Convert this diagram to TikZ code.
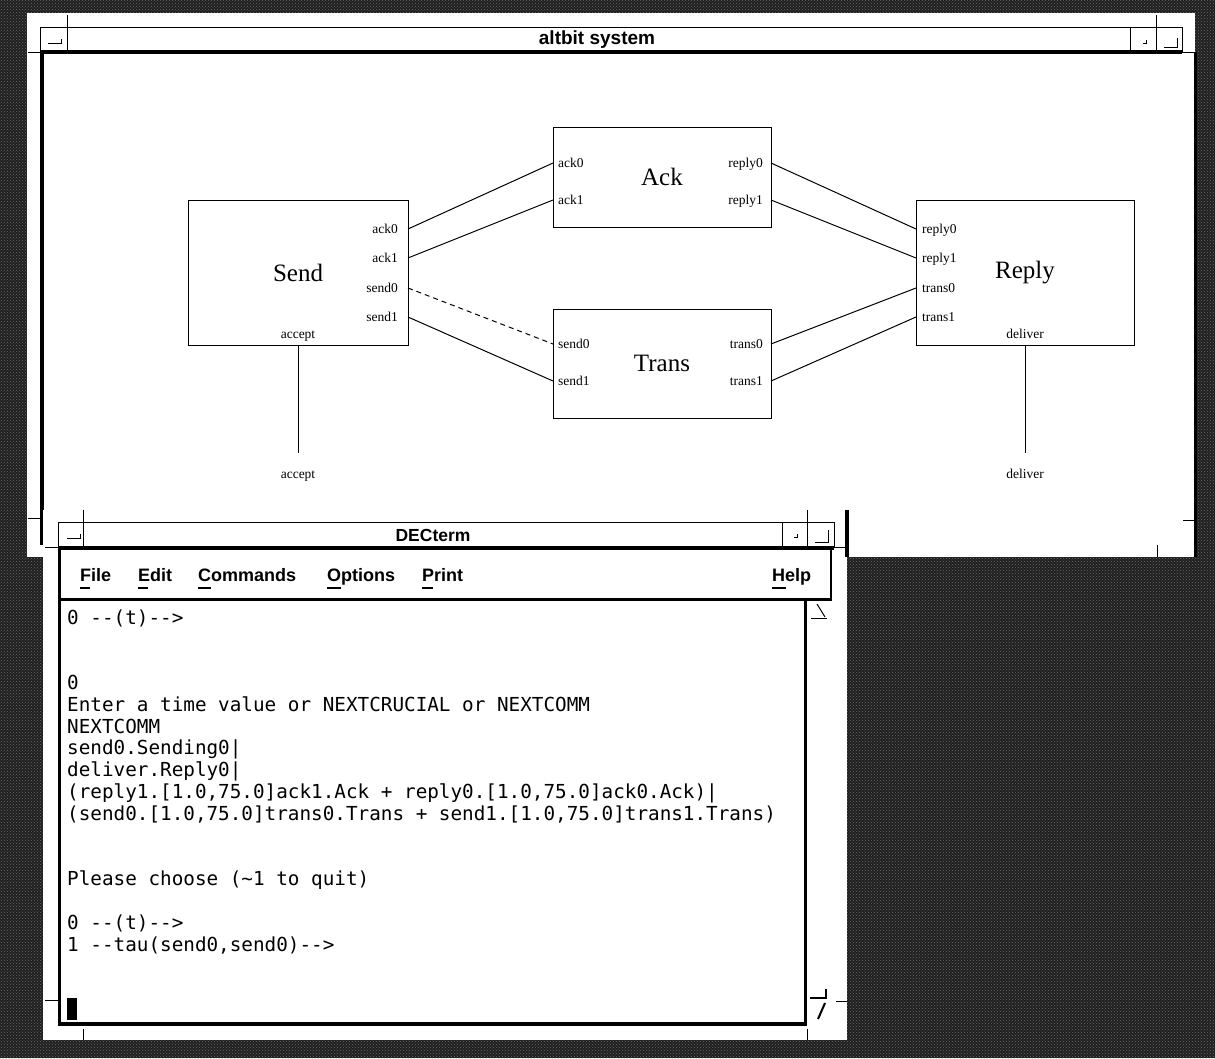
\documentclass[tikz,border=0pt]{standalone}
\usepackage{fontspec}
\setmainfont{Liberation Serif}
\newfontfamily\uisans{Liberation Sans}
\setmonofont{DejaVu Sans Mono}
\usetikzlibrary{patterns}

\newcommand\dgPort{\fontsize{13.5}{15}\selectfont}
\newcommand\dgTitle{\fontsize{25}{28}\selectfont}
\newcommand\ttyText{\ttfamily\fontsize{19.3}{22}\selectfont}
\newcommand\wmMenu{\uisans\bfseries\fontsize{18}{20}\selectfont}

\tikzset{
  thinln/.style={line width=1pt},
  medln/.style={line width=2pt},
  thickln/.style={line width=3.5pt},
  frame/.style={fill=white},
  procbox/.style={draw, line width=1pt, fill=white, inner sep=0pt, font=\dgTitle},
  portR/.style={font=\dgPort, inner sep=0pt, anchor=base east},
  portL/.style={font=\dgPort, inner sep=0pt, anchor=base west},
  portC/.style={font=\dgPort, inner sep=0pt, anchor=base},
  wire/.style={line width=1pt},
  ttyline/.style={font=\ttyText, inner sep=0pt, anchor=base west},
  menuitem/.style={font=\wmMenu, inner sep=0pt, anchor=base west},
  mnemonic/.style={line width=2pt},
  wmtitle/.style={inner sep=0pt, font=\uisans\bfseries\fontsize{#1}{#1}\selectfont},
}

\begin{document}
\begin{tikzpicture}[x=1pt,y=-1pt]
\useasboundingbox (0,0) rectangle (1215,1058);

% desktop background
\fill[black!88] (0,0) rectangle (1215,1058);
\fill[pattern=crosshatch dots, pattern color=black!58] (0,0) rectangle (1215,1058);

% ---------------- altbit system window ----------------
\fill[frame] (27,13) rectangle (1195,557);
\draw[thickln] (1195.5,52) -- (1195.5,557);
% title bar
\draw[thinln] (40,27) -- (1182,27);
\draw[thinln] (40,27) -- (40,52);
\draw[thinln] (67,15) -- (67,52);
\draw[thinln] (1130,27) -- (1130,52);
\draw[thinln] (1156,15) -- (1156,52);
\draw[thinln] (1182,27) -- (1182,52);
\draw[thickln] (40,52) -- (1182,52);
\draw[thinln] (28,52) -- (40,52);
\draw[thinln] (1182,52) -- (1195,52);
% title bar buttons
\draw[thinln] (48,43) -- (61,43) -- (61,39);
\draw[thinln] (1143,43) -- (1146,43) -- (1146,40);
\draw[thinln] (1164,47) -- (1177,47) -- (1177,38);
\node[wmtitle=19] (maintitle) at (597,40) {altbit system};
% window border
\draw[thickln] (42,52) -- (42,545);
\draw[thinln] (28,518) -- (42,518);
\draw[thinln] (1183,520) -- (1195,520);
\draw[thinln] (1157,545) -- (1157,557);

% process boxes
\node[procbox, minimum width=220pt, minimum height=145pt] (send)  at (298,272.5) {Send};
\node[procbox, minimum width=218pt, minimum height=100pt] (ack)   at (662,177)   {Ack};
\node[procbox, minimum width=218pt, minimum height=109pt] (trans) at (662,363.5) {Trans};
\node[procbox, minimum width=218pt, minimum height=145pt] (reply) at (1025,272.5) {Reply};

% port points on the box edges
\coordinate (s-ack0)  at (408,229);
\coordinate (s-ack1)  at (408,258);
\coordinate (s-send0) at (408,288);
\coordinate (s-send1) at (408,317);
\coordinate (a-ack0)  at (553,163);
\coordinate (a-ack1)  at (553,200);
\coordinate (a-rep0)  at (771,163);
\coordinate (a-rep1)  at (771,200);
\coordinate (t-send0) at (553,344);
\coordinate (t-send1) at (553,381);
\coordinate (t-tr0)   at (771,344);
\coordinate (t-tr1)   at (771,381);
\coordinate (r-rep0)  at (916,229);
\coordinate (r-rep1)  at (916,258);
\coordinate (r-tr0)   at (916,288);
\coordinate (r-tr1)   at (916,317);
\coordinate (acc-end) at (298,453);
\coordinate (del-end) at (1025,453);

% port labels
\node[portR] (ls-ack0)  at (398,233) {ack0};
\node[portR] (ls-ack1)  at (398,262) {ack1};
\node[portR] (ls-send0) at (398,292) {send0};
\node[portR] (ls-send1) at (398,321) {send1};
\node[portC] (ls-acc)   at (298,338) {accept};
\node[portL] (la-ack0)  at (558,167) {ack0};
\node[portL] (la-ack1)  at (558,204) {ack1};
\node[portR] (la-rep0)  at (763,167) {reply0};
\node[portR] (la-rep1)  at (763,204) {reply1};
\node[portL] (lt-send0) at (558,348) {send0};
\node[portL] (lt-send1) at (558,385) {send1};
\node[portR] (lt-tr0)   at (763,348) {trans0};
\node[portR] (lt-tr1)   at (763,385) {trans1};
\node[portL] (lr-rep0)  at (922,233) {reply0};
\node[portL] (lr-rep1)  at (922,262) {reply1};
\node[portL] (lr-tr0)   at (922,292) {trans0};
\node[portL] (lr-tr1)   at (922,321) {trans1};
\node[portC] (lr-del)   at (1025,338) {deliver};
\node[portC] (ext-acc)  at (298,478) {accept};
\node[portC] (ext-del)  at (1025,478) {deliver};

% channels
\draw[wire] (s-ack0) -- (a-ack0);
\draw[wire] (s-ack1) -- (a-ack1);
\draw[wire, dash pattern=on 5pt off 4pt] (s-send0) -- (t-send0);
\draw[wire] (s-send1) -- (t-send1);
\draw[wire] (a-rep0) -- (r-rep0);
\draw[wire] (a-rep1) -- (r-rep1);
\draw[wire] (t-tr0) -- (r-tr0);
\draw[wire] (t-tr1) -- (r-tr1);
\draw[wire] (send.south) -- (acc-end);
\draw[wire] (reply.south) -- (del-end);

% ---------------- DECterm window ----------------
\fill[frame] (43,510) rectangle (847,1040);
\draw[thickln] (847,510) -- (847,557);
% title bar
\draw[thinln] (58,522) -- (834,522);
\draw[thinln] (58,522) -- (58,548);
\draw[thinln] (83,510) -- (83,548);
\draw[thinln] (782,522) -- (782,548);
\draw[thinln] (807,510) -- (807,548);
\draw[thinln] (834,522) -- (834,548);
\draw[thickln] (58,548) -- (834,548);
\draw[thinln] (45,547) -- (58,547);
\draw[thinln] (834,547) -- (847,547);
\draw[thinln] (67,538) -- (80,538) -- (80,534);
\draw[thinln] (794,537) -- (797,537) -- (797,534);
\draw[thinln] (815,542) -- (828,542) -- (828,530);
\node[wmtitle=17.5] (termtitle) at (433,535) {DECterm};

% menu bar
\node[menuitem] (m-file) at (80,581)  {File};
\node[menuitem] (m-edit) at (138,581) {Edit};
\node[menuitem] (m-cmd)  at (198,581) {Commands};
\node[menuitem] (m-opt)  at (327,581) {Options};
\node[menuitem] (m-prn)  at (422,581) {Print};
\node[menuitem] (m-help) at (772,581) {Help};
\draw[mnemonic] (80,588) -- (90,588);
\draw[mnemonic] (138,588) -- (148,588);
\draw[mnemonic] (198,588) -- (211,588);
\draw[mnemonic] (327,588) -- (341,588);
\draw[mnemonic] (422,588) -- (433,588);
\draw[mnemonic] (772,588) -- (786,588);
\draw[medln] (831,549) -- (831,599);
\draw[thickln] (60,599.5) -- (832,599.5);

% text area
\draw[thickln] (59.5,548) -- (59.5,1024) -- (805.5,1024) -- (805.5,599.5);
\draw[thinln] (817,604) -- (825,617);
\draw[thinln] (811,618) -- (827,618);
\draw[medln] (810,998) -- (826,998) -- (826,989);
\draw[medln] (825,1003) -- (818,1019);
\draw[thinln] (45,1000) -- (58,1000);
\draw[thinln] (836,1001) -- (847,1001);
\draw[thinln] (83,1029) -- (83,1040);
\draw[thinln] (807,1029) -- (807,1040);

% terminal output
\node[ttyline] (t0)  at (67,624)   {0 --(t)-->};
\node[ttyline] (t3)  at (67,689.4) {0};
\node[ttyline] (t4)  at (67,711.2) {Enter a time value or NEXTCRUCIAL or NEXTCOMM};
\node[ttyline] (t5)  at (67,733)   {NEXTCOMM};
\node[ttyline] (t6)  at (67,754.8) {send0.Sending0|};
\node[ttyline] (t7)  at (67,776.6) {deliver.Reply0|};
\node[ttyline] (t8)  at (67,798.4) {(reply1.[1.0,75.0]ack1.Ack + reply0.[1.0,75.0]ack0.Ack)|};
\node[ttyline] (t9)  at (67,820.2) {(send0.[1.0,75.0]trans0.Trans + send1.[1.0,75.0]trans1.Trans)};
\node[ttyline] (t12) at (67,885.6) {Please choose (\textasciitilde 1 to quit)};
\node[ttyline] (t14) at (67,929.2) {0 --(t)-->};
\node[ttyline] (t15) at (67,951)   {1 --tau(send0,send0)-->};
\fill (67,998) rectangle (77,1020);
\end{tikzpicture}
\end{document}
